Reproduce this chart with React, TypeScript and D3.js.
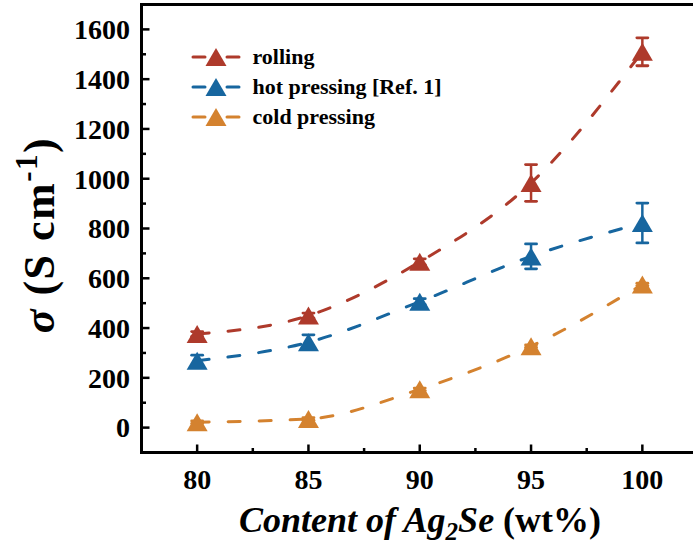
import React from "react";
import * as d3 from "d3";

const contents = [80, 85, 90, 95, 100];
const rolling = [376, 450, 666, 983, 1510];
const rollingErr = [10, 10, 12, 74, 56];
const hotPressing = [269, 343, 506, 688, 822];
const hotPressingErr = [22, 30, 12, 50, 80];
const coldPressing = [22, 35, 154, 327, 575];
const coldPressingErr = [5, 5, 5, 5, 5];
const yTicks = [0, 200, 400, 600, 800, 1000, 1200, 1400, 1600];
const yMinor = [-100, 100, 300, 500, 700, 900, 1100, 1300, 1500, 1700];
const xTicks = [80, 85, 90, 95, 100];
const xMinor = [82.5, 87.5, 92.5, 97.5];
const seriesNames = ["rolling", "hot pressing [Ref. 1]", "cold pressing"];

const W = 693;
const H = 545;
const colors = ["#AE3A2B", "#17669F", "#D4822F"];

function T(props: any) {
  const { style, children, ...rest } = props;
  return (
    <text
      {...rest}
      fontWeight="bold"
      fill="#000"
      style={{ fontFamily: '"Liberation Serif", cursive', ...(style || {}) }}
    >
      {children}
    </text>
  );
}

export default function App() {
  const x = d3.scaleLinear().domain([77.5, 102.5]).range([141.5, 698]);
  const y = d3.scaleLinear().domain([-100, 1700]).range([452.5, 4.5]);
  const series = [
    { vals: rolling, err: rollingErr },
    { vals: hotPressing, err: hotPressingErr },
    { vals: coldPressing, err: coldPressingErr },
  ];
  const line = d3
    .line<[number, number]>()
    .x((d) => x(d[0]))
    .y((d) => y(d[1]))
    .curve(d3.curveMonotoneX);
  const tri = (cx: number, cy: number) => {
    const w = 10.5, h = 9;
    return `M${cx},${cy - h}L${cx + w},${cy + h}L${cx - w},${cy + h}Z`;
  };
  const left = x(77.5);
  const bottom = y(-100);
  const top = y(1700);

  return (
    <svg width={W} height={H} style={{ position: "absolute", left: 0, top: 0, background: "#fff" }}>
      <rect width={W} height={H} fill="#fff" />
      {series.map((s, i) => (
        <path
          key={"l" + i}
          d={line(contents.map((c, j) => [c, s.vals[j]] as [number, number])) || ""}
          fill="none"
          stroke={colors[i]}
          strokeWidth={3}
          strokeDasharray="12 19"
          strokeLinecap="round"
        />
      ))}
      {series.map((s, i) => (
        <g key={"m" + i} stroke={colors[i]} fill={colors[i]}>
          {contents.map((c, j) => {
            const cx = x(c);
            const y1 = y(s.vals[j] + s.err[j]);
            const y2 = y(s.vals[j] - s.err[j]);
            return (
              <g key={j}>
                <line x1={cx} x2={cx} y1={y1} y2={y2} strokeWidth={2.5} />
                <line x1={cx - 5.5} x2={cx + 5.5} y1={y1} y2={y1} strokeWidth={2.8} strokeLinecap="round" />
                <line x1={cx - 5.5} x2={cx + 5.5} y1={y2} y2={y2} strokeWidth={2.8} strokeLinecap="round" />
                <path d={tri(cx, y(s.vals[j]))} stroke="none" />
              </g>
            );
          })}
        </g>
      ))}
      <g stroke="#000" strokeWidth={3} fill="none">
        <line x1={left} x2={left} y1={top - 1.5} y2={bottom + 1.5} />
        <line x1={left} x2={W + 10} y1={bottom} y2={bottom} />
        <line x1={left} x2={W + 10} y1={top} y2={top} />
      </g>
      <g stroke="#000" strokeWidth={2.5}>
        {yTicks.map((t) => (
          <line key={t} x1={left} x2={left + 8} y1={y(t)} y2={y(t)} />
        ))}
        {yMinor.map((t) => (
          <line key={t} x1={left} x2={left + 4.5} y1={y(t)} y2={y(t)} />
        ))}
        {xTicks.map((t) => (
          <line key={t} x1={x(t)} x2={x(t)} y1={bottom} y2={bottom - 8} />
        ))}
        {xMinor.map((t) => (
          <line key={t} x1={x(t)} x2={x(t)} y1={bottom} y2={bottom - 4.5} />
        ))}
      </g>
      {yTicks.map((t) => (
        <T key={"yt" + t} x={130} y={y(t)} dy="0.35em" textAnchor="end" fontSize={28}>
          {String(t)}
        </T>
      ))}
      {xTicks.map((t) => (
        <T key={"xt" + t} x={x(t)} y={489} textAnchor="middle" fontSize={28}>
          {String(t)}
        </T>
      ))}
      <T x={420} y={532} textAnchor="middle" fontSize={36}>
        <tspan fontStyle="italic">Content of Ag</tspan>
        <tspan fontStyle="italic" fontSize={25} dy={8}>2</tspan>
        <tspan fontStyle="italic" dy={-8}>Se</tspan>
        <tspan> (wt%)</tspan>
      </T>
      <T transform="translate(54,235) rotate(-90)" textAnchor="middle" fontSize={44} style={{ letterSpacing: "1.5px" }}>
        <tspan fontStyle="italic">σ</tspan>
        <tspan> (S cm</tspan>
        <tspan fontSize={31} dy={-17}>-1</tspan>
        <tspan dy={17}>)</tspan>
      </T>
      {seriesNames.map((n, i) => {
        const ly = 57 + i * 30;
        return (
          <g key={n}>
            <line x1={193} x2={205} y1={ly} y2={ly} stroke={colors[i]} strokeWidth={3} strokeLinecap="round" />
            <line x1={227} x2={239} y1={ly} y2={ly} stroke={colors[i]} strokeWidth={3} strokeLinecap="round" />
            <path d={tri(216, ly)} fill={colors[i]} />
            <T x={252.5} y={ly} dy="0.33em" fontSize={22}>
              {n}
            </T>
          </g>
        );
      })}
    </svg>
  );
}
